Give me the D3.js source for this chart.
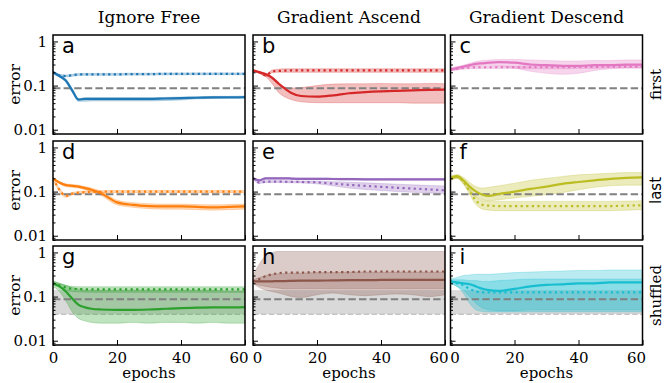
<!DOCTYPE html>
<html>
<head>
<meta charset="utf-8">
<script src="https://cdn.jsdelivr.net/npm/d3@7"></script>
<style>
body { margin: 0; background: #fff; }
text { font-family: "DejaVu Serif", serif; fill: #000; }
</style>
</head>
<body>
<svg id="chart" width="666" height="383"></svg>
<script>
const epochs = [0, 2, 4, 6, 8, 10, 12, 15, 20, 25, 30, 35, 40, 45, 50, 55, 60];

const columnTitles = ["Ignore Free", "Gradient Ascend", "Gradient Descend"];
const rowTitles = ["first", "last", "shuffled"];
const panelLetters = ["a", "b", "c", "d", "e", "f", "g", "h", "i"];
const panelColors = ["#1f77b4", "#d62728", "#e377c2", "#ff7f0e", "#9467bd", "#bcbd22", "#2ca02c", "#8c564b", "#17becf"];
const yMajorTicks = [1, 0.1, 0.01];
const yMinorTicks = [0.008, 0.009, 0.02, 0.03, 0.04, 0.05, 0.06, 0.07, 0.08, 0.09, 0.2, 0.3, 0.4, 0.5, 0.6, 0.7, 0.8, 0.9];
const xTicks = [0, 20, 40, 60];
const baselineError = 0.087;
const shuffleBand = [0.04, 0.14];

// a: ignore free / first
const aMean = [0.2, 0.165, 0.13, 0.078, 0.048, 0.05, 0.05, 0.05, 0.05, 0.05, 0.05, 0.051, 0.052, 0.053, 0.054, 0.054, 0.055];
const aLow = [0.19, 0.155, 0.12, 0.07, 0.044, 0.044, 0.045, 0.045, 0.045, 0.045, 0.045, 0.046, 0.047, 0.05, 0.051, 0.052, 0.052];
const aHigh = [0.21, 0.175, 0.14, 0.085, 0.051, 0.053, 0.053, 0.053, 0.053, 0.053, 0.053, 0.054, 0.055, 0.056, 0.057, 0.057, 0.058];
const aDot = [0.2, 0.17, 0.165, 0.172, 0.178, 0.18, 0.18, 0.18, 0.18, 0.182, 0.182, 0.184, 0.184, 0.185, 0.185, 0.185, 0.185];
const aDotLow = [0.19, 0.16, 0.157, 0.163, 0.169, 0.171, 0.171, 0.171, 0.171, 0.173, 0.173, 0.175, 0.175, 0.176, 0.176, 0.176, 0.176];
const aDotHigh = [0.21, 0.18, 0.173, 0.18, 0.187, 0.189, 0.189, 0.189, 0.189, 0.191, 0.191, 0.193, 0.193, 0.194, 0.194, 0.194, 0.194];

// b: gradient ascend / first
const bMean = [0.22, 0.2, 0.18, 0.15, 0.11, 0.085, 0.068, 0.058, 0.056, 0.06, 0.067, 0.071, 0.074, 0.076, 0.078, 0.08, 0.081];
const bLow = [0.21, 0.19, 0.16, 0.11, 0.07, 0.055, 0.048, 0.043, 0.041, 0.041, 0.041, 0.041, 0.041, 0.041, 0.04, 0.04, 0.04];
const bHigh = [0.23, 0.21, 0.19, 0.16, 0.12, 0.092, 0.088, 0.09, 0.1, 0.108, 0.11, 0.11, 0.112, 0.11, 0.11, 0.112, 0.11];
const bDot = [0.22, 0.2, 0.17, 0.21, 0.215, 0.218, 0.22, 0.22, 0.22, 0.22, 0.22, 0.22, 0.22, 0.22, 0.22, 0.22, 0.22];
const bDotLow = [0.21, 0.19, 0.16, 0.195, 0.2, 0.2, 0.2, 0.2, 0.2, 0.2, 0.2, 0.2, 0.2, 0.2, 0.2, 0.2, 0.2];
const bDotHigh = [0.23, 0.21, 0.18, 0.225, 0.235, 0.24, 0.24, 0.24, 0.24, 0.24, 0.24, 0.24, 0.24, 0.24, 0.24, 0.24, 0.24];

// c: gradient descend / first
const cMean = [0.23, 0.25, 0.27, 0.29, 0.31, 0.32, 0.33, 0.34, 0.33, 0.3, 0.29, 0.28, 0.28, 0.29, 0.29, 0.3, 0.3];
const cLow = [0.21, 0.23, 0.25, 0.27, 0.28, 0.29, 0.29, 0.28, 0.25, 0.21, 0.19, 0.18, 0.19, 0.22, 0.24, 0.25, 0.25];
const cHigh = [0.25, 0.27, 0.29, 0.32, 0.35, 0.37, 0.38, 0.39, 0.39, 0.38, 0.37, 0.36, 0.36, 0.37, 0.37, 0.38, 0.38];
const cDot = [0.23, 0.24, 0.25, 0.255, 0.26, 0.26, 0.26, 0.26, 0.26, 0.26, 0.26, 0.26, 0.265, 0.265, 0.27, 0.27, 0.27];
const cDotLow = [0.22, 0.225, 0.235, 0.24, 0.245, 0.245, 0.245, 0.245, 0.245, 0.24, 0.24, 0.24, 0.245, 0.245, 0.25, 0.25, 0.25];
const cDotHigh = [0.24, 0.255, 0.265, 0.27, 0.275, 0.275, 0.275, 0.275, 0.275, 0.28, 0.28, 0.28, 0.285, 0.285, 0.29, 0.29, 0.29];

// d: ignore free / last
const dMean = [0.2, 0.16, 0.14, 0.135, 0.13, 0.12, 0.11, 0.092, 0.057, 0.05, 0.047, 0.046, 0.046, 0.045, 0.044, 0.045, 0.046];
const dLow = [0.19, 0.15, 0.13, 0.125, 0.12, 0.11, 0.1, 0.082, 0.05, 0.044, 0.041, 0.04, 0.04, 0.039, 0.038, 0.039, 0.04];
const dHigh = [0.21, 0.17, 0.15, 0.145, 0.14, 0.13, 0.12, 0.102, 0.064, 0.056, 0.053, 0.052, 0.052, 0.051, 0.05, 0.051, 0.052];
const dDot = [0.2, 0.11, 0.08, 0.09, 0.095, 0.097, 0.098, 0.099, 0.1, 0.1, 0.1, 0.1, 0.1, 0.1, 0.1, 0.1, 0.1];
const dDotLow = [0.19, 0.1, 0.074, 0.084, 0.089, 0.091, 0.092, 0.093, 0.094, 0.094, 0.094, 0.094, 0.094, 0.094, 0.094, 0.094, 0.094];
const dDotHigh = [0.21, 0.12, 0.086, 0.096, 0.101, 0.103, 0.104, 0.105, 0.106, 0.106, 0.106, 0.106, 0.106, 0.106, 0.106, 0.106, 0.106];

// e: gradient ascend / last
const eMean = [0.2, 0.18, 0.2, 0.2, 0.2, 0.2, 0.197, 0.195, 0.195, 0.193, 0.192, 0.19, 0.19, 0.19, 0.19, 0.19, 0.19];
const eLow = [0.192, 0.173, 0.192, 0.192, 0.192, 0.192, 0.189, 0.187, 0.187, 0.185, 0.184, 0.182, 0.182, 0.182, 0.182, 0.182, 0.182];
const eHigh = [0.208, 0.187, 0.208, 0.208, 0.208, 0.208, 0.205, 0.203, 0.203, 0.201, 0.2, 0.198, 0.198, 0.198, 0.198, 0.198, 0.198];
const eDot = [0.2, 0.16, 0.168, 0.168, 0.168, 0.167, 0.166, 0.165, 0.162, 0.152, 0.142, 0.135, 0.128, 0.122, 0.117, 0.112, 0.107];
const eDotLow = [0.19, 0.152, 0.16, 0.16, 0.16, 0.159, 0.158, 0.157, 0.15, 0.135, 0.12, 0.112, 0.106, 0.1, 0.096, 0.093, 0.09];
const eDotHigh = [0.21, 0.168, 0.176, 0.176, 0.176, 0.175, 0.174, 0.173, 0.172, 0.168, 0.163, 0.158, 0.152, 0.147, 0.142, 0.138, 0.134];

// f: gradient descend / last
const fMean = [0.2, 0.22, 0.18, 0.13, 0.1, 0.085, 0.08, 0.088, 0.1, 0.115, 0.13, 0.15, 0.165, 0.18, 0.195, 0.205, 0.21];
const fLow = [0.18, 0.2, 0.15, 0.1, 0.075, 0.065, 0.062, 0.065, 0.072, 0.078, 0.085, 0.095, 0.11, 0.125, 0.135, 0.14, 0.14];
const fHigh = [0.22, 0.24, 0.21, 0.16, 0.13, 0.12, 0.125, 0.135, 0.155, 0.18, 0.2, 0.22, 0.24, 0.25, 0.26, 0.27, 0.27];
const fDot = [0.2, 0.22, 0.17, 0.1, 0.062, 0.05, 0.048, 0.047, 0.047, 0.047, 0.047, 0.047, 0.047, 0.047, 0.047, 0.048, 0.049];
const fDotLow = [0.18, 0.2, 0.15, 0.085, 0.05, 0.04, 0.038, 0.037, 0.037, 0.037, 0.037, 0.037, 0.037, 0.037, 0.037, 0.038, 0.039];
const fDotHigh = [0.22, 0.24, 0.19, 0.12, 0.075, 0.062, 0.06, 0.06, 0.06, 0.06, 0.06, 0.06, 0.06, 0.06, 0.06, 0.061, 0.062];

// g: ignore free / shuffled
const gMean = [0.2, 0.17, 0.13, 0.09, 0.065, 0.057, 0.053, 0.051, 0.05, 0.05, 0.051, 0.053, 0.055, 0.056, 0.057, 0.057, 0.058];
const gLow = [0.17, 0.13, 0.08, 0.045, 0.032, 0.028, 0.026, 0.025, 0.025, 0.026, 0.025, 0.026, 0.026, 0.025, 0.026, 0.025, 0.025];
const gHigh = [0.23, 0.2, 0.18, 0.16, 0.15, 0.14, 0.14, 0.14, 0.14, 0.14, 0.14, 0.14, 0.14, 0.14, 0.14, 0.13, 0.13];
const gDot = [0.2, 0.18, 0.16, 0.15, 0.148, 0.146, 0.145, 0.145, 0.145, 0.145, 0.145, 0.145, 0.145, 0.145, 0.145, 0.145, 0.145];
const gDotLow = [0.19, 0.165, 0.14, 0.13, 0.128, 0.126, 0.125, 0.125, 0.125, 0.125, 0.125, 0.125, 0.125, 0.125, 0.125, 0.125, 0.125];
const gDotHigh = [0.22, 0.2, 0.18, 0.17, 0.168, 0.167, 0.167, 0.167, 0.167, 0.167, 0.167, 0.167, 0.167, 0.167, 0.167, 0.167, 0.167];

// h: gradient ascend / shuffled
const hMean = [0.22, 0.22, 0.22, 0.222, 0.225, 0.225, 0.228, 0.23, 0.23, 0.233, 0.235, 0.235, 0.238, 0.24, 0.24, 0.24, 0.24];
const hLow = [0.2, 0.16, 0.14, 0.13, 0.12, 0.11, 0.1, 0.095, 0.11, 0.12, 0.11, 0.105, 0.11, 0.115, 0.11, 0.1, 0.11];
const hHigh = [0.24, 0.27, 0.3, 0.32, 0.33, 0.33, 0.34, 0.34, 0.35, 0.35, 0.36, 0.36, 0.36, 0.36, 0.36, 0.36, 0.36];
const hDot = [0.22, 0.25, 0.29, 0.32, 0.34, 0.35, 0.35, 0.35, 0.36, 0.36, 0.36, 0.37, 0.37, 0.37, 0.37, 0.37, 0.37];
const hDotLow = [0.2, 0.18, 0.17, 0.16, 0.155, 0.15, 0.15, 0.15, 0.15, 0.15, 0.15, 0.15, 0.15, 0.15, 0.15, 0.15, 0.15];
const hDotHigh = [0.3, 0.55, 0.85, 1.0, 1.05, 1.05, 1.05, 1.05, 1.05, 1.05, 1.05, 1.05, 1.05, 1.05, 1.05, 1.05, 1.05];

// i: gradient descend / shuffled
const iMean = [0.22, 0.21, 0.2, 0.19, 0.17, 0.15, 0.14, 0.135, 0.15, 0.17, 0.185, 0.19, 0.2, 0.2, 0.21, 0.21, 0.21];
const iLow = [0.2, 0.17, 0.14, 0.1, 0.07, 0.055, 0.05, 0.048, 0.048, 0.05, 0.05, 0.05, 0.05, 0.05, 0.05, 0.05, 0.05];
const iHigh = [0.25, 0.27, 0.3, 0.31, 0.32, 0.32, 0.32, 0.33, 0.35, 0.36, 0.37, 0.38, 0.39, 0.39, 0.4, 0.4, 0.4];
const iDot = [0.22, 0.2, 0.18, 0.15, 0.13, 0.125, 0.125, 0.125, 0.125, 0.125, 0.125, 0.125, 0.125, 0.125, 0.125, 0.125, 0.125];
const iDotLow = [0.2, 0.17, 0.12, 0.07, 0.05, 0.046, 0.045, 0.045, 0.045, 0.045, 0.045, 0.045, 0.045, 0.045, 0.045, 0.045, 0.045];
const iDotHigh = [0.24, 0.24, 0.24, 0.23, 0.23, 0.22, 0.22, 0.23, 0.24, 0.25, 0.25, 0.25, 0.25, 0.25, 0.25, 0.25, 0.25];

const panelSeries = [
    [aMean, aLow, aHigh, aDot, aDotLow, aDotHigh],
    [bMean, bLow, bHigh, bDot, bDotLow, bDotHigh],
    [cMean, cLow, cHigh, cDot, cDotLow, cDotHigh],
    [dMean, dLow, dHigh, dDot, dDotLow, dDotHigh],
    [eMean, eLow, eHigh, eDot, eDotLow, eDotHigh],
    [fMean, fLow, fHigh, fDot, fDotLow, fDotHigh],
    [gMean, gLow, gHigh, gDot, gDotLow, gDotHigh],
    [hMean, hLow, hHigh, hDot, hDotLow, hDotHigh],
    [iMean, iLow, iHigh, iDot, iDotLow, iDotHigh]
];

// layout
const LEFTS = [53, 253, 450.5];
const TOPS = [35, 141, 246];
const PANEL_W = 192;
const PANEL_H = 99;

var svg = d3.select("#chart");

function zipRows (mean, low, high) {
    return epochs.map(function (e, k) { return {e: e, v: mean[k], lo: low[k], hi: high[k]}; });
}

function drawPanel (idx) {
    var row = Math.floor(idx / 3), col = idx % 3;
    var left = LEFTS[col], top = TOPS[row];
    var color = panelColors[idx];
    var s = panelSeries[idx];

    var x = d3.scaleLinear().domain([0, 60]).range([left, left + PANEL_W]);
    var y = d3.scaleLog().domain([0.008, 1.4]).range([top + PANEL_H, top]);

    var g = svg.append("g");
    var clipId = "clip-" + idx;
    g.append("clipPath").attr("id", clipId)
     .append("rect")
     .attr("x", left).attr("y", top)
     .attr("width", PANEL_W).attr("height", PANEL_H);

    var plot = g.append("g").attr("clip-path", "url(#" + clipId + ")");

    var area = d3.area()
                 .curve(d3.curveMonotoneX)
                 .x(function (d) { return x(d.e); })
                 .y0(function (d) { return y(d.lo); })
                 .y1(function (d) { return y(d.hi); });
    var line = d3.line()
                 .curve(d3.curveMonotoneX)
                 .x(function (d) { return x(d.e); })
                 .y(function (d) { return y(d.v); });

    // shuffled row has a grey reference band
    if (row == 2) {
        plot.append("rect")
            .attr("x", x(0)).attr("width", x(60) - x(0))
            .attr("y", y(shuffleBand[1]))
            .attr("height", y(shuffleBand[0]) - y(shuffleBand[1]))
            .style("fill", "#d9d9d9");
        plot.append("line")
            .attr("x1", x(0)).attr("x2", x(60))
            .attr("y1", y(shuffleBand[0])).attr("y2", y(shuffleBand[0]))
            .style("stroke", "#c4c4c4")
            .style("stroke-width", 1.5)
            .style("stroke-dasharray", "5.5,2.4");
    }

    var meanRows = zipRows(s[0], s[1], s[2]);
    var dotRows = zipRows(s[3], s[4], s[5]);

    [dotRows, meanRows].forEach(function (rows) {
        plot.append("path")
            .datum(rows)
            .attr("d", area)
            .style("fill", color)
            .style("fill-opacity", 0.3)
            .style("stroke", color)
            .style("stroke-opacity", 0.25)
            .style("stroke-width", 1);
    });

    plot.append("line")
        .attr("x1", x(0)).attr("x2", x(60))
        .attr("y1", y(baselineError)).attr("y2", y(baselineError))
        .style("stroke", "#808080")
        .style("stroke-width", 2)
        .style("stroke-dasharray", "7.4,3.2");

    plot.append("path")
        .datum(dotRows)
        .attr("d", line)
        .style("fill", "none")
        .style("stroke", color)
        .style("stroke-width", 2.2)
        .style("stroke-dasharray", "2.2,3.4");

    plot.append("path")
        .datum(meanRows)
        .attr("d", line)
        .style("fill", "none")
        .style("stroke", color)
        .style("stroke-width", 2.2);

    // axes, ticks pointing inward
    var yMajor = g.append("g")
                  .attr("transform", "translate(" + left + ",0)")
                  .call(d3.axisLeft(y).tickValues(yMajorTicks).tickSize(-5).tickPadding(6)
                          .tickFormat(col == 0 ? function (d) { return d.toString(); } : function () { return ""; }));
    var yMinor = g.append("g")
                  .attr("transform", "translate(" + left + ",0)")
                  .call(d3.axisLeft(y).tickValues(yMinorTicks).tickSize(-2.5).tickFormat(function () { return ""; }));
    var xAxis = g.append("g")
                 .attr("transform", "translate(0," + (top + PANEL_H) + ")")
                 .call(d3.axisBottom(x).tickValues(xTicks).tickSize(-5).tickPadding(7)
                         .tickFormat(row == 2 ? function (d) { return d.toString(); } : function () { return ""; }));

    [yMajor, yMinor, xAxis].forEach(function (ax) {
        ax.select(".domain").remove();
        ax.selectAll("line").style("stroke", "#000").style("stroke-width", 1);
        ax.selectAll("text")
          .style("font-family", "'DejaVu Serif', serif")
          .style("font-size", "15px")
          .style("fill", "#000");
    });

    // edge labels sit a little inside the frame, as in the original
    xAxis.selectAll(".tick text")
         .attr("dx", function (d) {
             if (d == 60) return -6.5;
             if (d == 0 && col > 0) return 4;
             return 0;
         });

    g.append("rect")
     .attr("x", left).attr("y", top)
     .attr("width", PANEL_W).attr("height", PANEL_H)
     .style("fill", "none")
     .style("stroke", "#000")
     .style("stroke-width", 1.5);

    g.append("text")
     .text(panelLetters[idx])
     .attr("x", left + 9)
     .attr("y", top + 18)
     .style("font-family", "'DejaVu Sans', sans-serif")
     .style("font-size", "21px");

    if (col == 0) {
        g.append("text")
         .text("error")
         .attr("transform", "translate(20," + (top + PANEL_H / 2) + ") rotate(-90)")
         .style("text-anchor", "middle")
         .style("font-size", "15.5px");
    }
    if (row == 0) {
        g.append("text")
         .text(columnTitles[col])
         .attr("x", left + PANEL_W / 2)
         .attr("y", 23)
         .style("text-anchor", "middle")
         .style("font-size", "17px");
    }
    if (row == 2) {
        g.append("text")
         .text("epochs")
         .attr("x", left + PANEL_W / 2)
         .attr("y", 378)
         .style("text-anchor", "middle")
         .style("font-size", "15px");
    }
    if (col == 2) {
        g.append("text")
         .text(rowTitles[row])
         .attr("transform", "translate(661," + (top + PANEL_H / 2) + ") rotate(-90)")
         .style("text-anchor", "middle")
         .style("font-family", row == 1 ? "'DejaVu Sans', sans-serif" : "'DejaVu Serif', serif")
         .style("font-size", "15px");
    }
}

for (var p = 0; p < 9; p++) {
    drawPanel(p);
}
</script>
</body>
</html>
